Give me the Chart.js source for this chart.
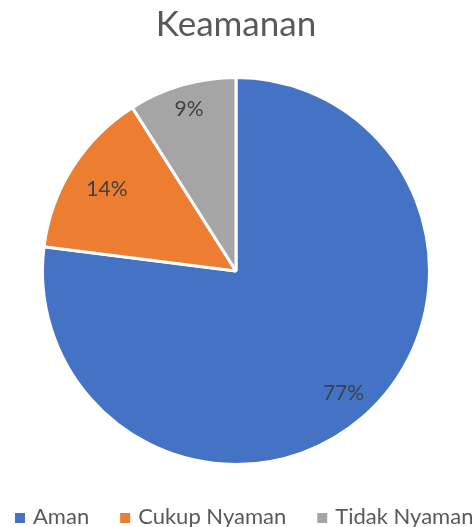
<!DOCTYPE html>
<html>
<head>
<meta charset="utf-8">
<script src="https://cdn.jsdelivr.net/npm/chart.js@4/dist/chart.umd.min.js"></script>
<style>
  html, body { margin: 0; padding: 0; background: #ffffff; }
  #wrap { width: 472px; height: 527px; position: relative; }
</style>
</head>
<body>
<div id="wrap"><canvas id="c" width="472" height="527"></canvas></div>
<script>
const chartTitle = "Keamanan";
const categories = ["Aman", "Cukup Nyaman", "Tidak Nyaman"];
const percentValues = [77, 14, 9];
const sliceColors = ["#4472C4", "#ED7D31", "#A5A5A5"];

const FONT = "Lato, 'Open Sans', sans-serif";
const labelRadiusFrac = [0.84, 0.79, 0.87];

// Percentage labels inside each slice
const sliceLabels = {
  id: "sliceLabels",
  afterDatasetsDraw(chart) {
    const ctx = chart.ctx;
    const meta = chart.getDatasetMeta(0);
    ctx.save();
    ctx.font = "21px " + FONT;
    ctx.fillStyle = "#404040";
    ctx.textAlign = "center";
    ctx.textBaseline = "middle";
    meta.data.forEach((arc, i) => {
      const p = arc.getProps(["x", "y", "startAngle", "endAngle", "outerRadius"], true);
      const mid = (p.startAngle + p.endAngle) / 2;
      const r = p.outerRadius * labelRadiusFrac[i];
      ctx.fillText(percentValues[i] + "%", p.x + Math.cos(mid) * r, p.y + Math.sin(mid) * r);
    });
    ctx.restore();
  }
};

// Bottom legend laid out like the original (square marker + label)
const bottomLegend = {
  id: "bottomLegend",
  afterDraw(chart) {
    const ctx = chart.ctx;
    const labels = chart.data.labels;
    const colors = chart.data.datasets[0].backgroundColor;
    const box = 10, boxGap = 8, itemGap = 31;
    const yMid = 517;
    let x = 15;
    ctx.save();
    ctx.font = "22px " + FONT;
    ctx.textBaseline = "middle";
    ctx.textAlign = "left";
    labels.forEach((lab, i) => {
      ctx.fillStyle = colors[i];
      ctx.fillRect(x, yMid - 4, box, box);
      x += box + boxGap;
      ctx.fillStyle = "#595959";
      ctx.fillText(lab, x, yMid);
      x += ctx.measureText(lab).width + itemGap;
    });
    ctx.restore();
  }
};

new Chart(document.getElementById("c"), {
  type: "pie",
  data: {
    labels: categories,
    datasets: [{
      data: percentValues,
      backgroundColor: sliceColors,
      borderColor: "#ffffff",
      borderWidth: 3
    }]
  },
  options: {
    responsive: false,
    animation: false,
    layout: { padding: { top: 0, left: 0, right: 0, bottom: 61 } },
    plugins: {
      title: {
        display: true,
        text: chartTitle,
        color: "#595959",
        font: { family: FONT, size: 35, weight: "normal", lineHeight: 1.2 },
        padding: { top: 3.5, bottom: 30.5 }
      },
      legend: { display: false },
      tooltip: { enabled: false }
    }
  },
  plugins: [sliceLabels, bottomLegend]
});
</script>
</body>
</html>
